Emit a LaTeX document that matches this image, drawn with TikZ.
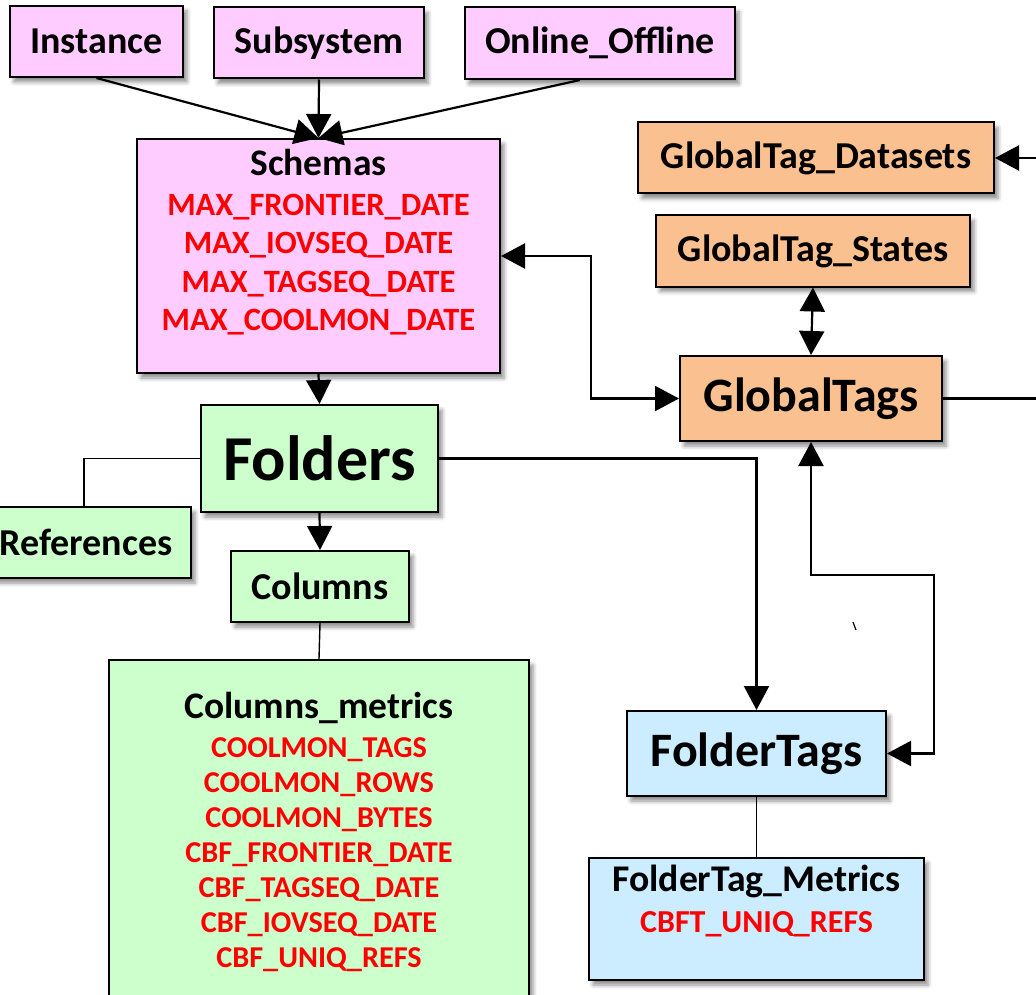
\documentclass[tikz,border=0pt]{standalone}
\usepackage{fontspec}
\setmainfont{Carlito}
\usepackage{xcolor}
\usetikzlibrary{arrows.meta,positioning,calc,shadows.blur}
\definecolor{schemapink}{HTML}{FFCCFF}
\definecolor{foldergreen}{HTML}{CCFFCC}
\definecolor{tagorange}{HTML}{FAC090}
\definecolor{tagblue}{HTML}{CCECFF}
\definecolor{metricred}{HTML}{FF0000}

\begin{document}
\begin{tikzpicture}[
    x=1pt,y=-1pt,
    >={Triangle[length=24pt,width=25pt]},
    box/.style    = {draw=black,line width=2pt,inner sep=0pt,
                     blur shadow={shadow xshift=4pt,shadow yshift=-5pt,
                                  shadow blur radius=4pt,shadow opacity=45}},
    pinkbox/.style   = {box,fill=schemapink},
    greenbox/.style  = {box,fill=foldergreen},
    orangebox/.style = {box,fill=tagorange},
    bluebox/.style   = {box,fill=tagblue},
    lbl/.style    = {font=\fontsize{38}{42}\selectfont\bfseries},
    big/.style    = {font=\fontsize{48}{52}\selectfont\bfseries},
    huge/.style   = {font=\fontsize{64}{68}\selectfont\bfseries},
    cols/.style   = {anchor=north,align=center,inner sep=0pt},
    link/.style   = {line width=2.2pt},
    thin/.style   = {line width=1.4pt},
  ]
  \path[use as bounding box] (0,0) rectangle (1036,995);
  \clip (0,0) rectangle (1036,995);

  % Schema level
  \node[pinkbox,lbl,minimum width=173,minimum height=71] (instance)  at (96.5,41.5) {Instance};
  \node[pinkbox,lbl,minimum width=210,minimum height=71] (subsystem) at (319,43)    {Subsystem};
  \node[pinkbox,lbl,minimum width=270,minimum height=72] (online)    at (600,43)    {Online\_Offline};

  \node[pinkbox,minimum width=363,minimum height=234] (schemas) at (318.5,256) {};
  \node[cols,font=\fontsize{32.5}{38.5}\selectfont\bfseries] (schemas-cols)
       at ([yshift=-11pt]schemas.north)
       {{\fontsize{37.5}{38.5}\selectfont Schemas}\\[1pt]
        \textcolor{metricred}{MAX\_FRONTIER\_DATE}\\
        \textcolor{metricred}{MAX\_IOVSEQ\_DATE}\\
        \textcolor{metricred}{MAX\_TAGSEQ\_DATE}\\
        \textcolor{metricred}{MAX\_COOLMON\_DATE}};

  % Folder level
  \node[greenbox,huge,minimum width=237,minimum height=107] (folders)    at (319.5,458.5) {Folders};
  \node[greenbox,lbl,minimum width=210,minimum height=71]   (references) at (86,542.5)    {References};
  \node[greenbox,lbl,minimum width=178,minimum height=71]   (columns)    at (320,586.5)   {Columns};

  \node[greenbox,minimum width=420,minimum height=380] (colmetrics) at (319,850) {};
  \node[cols,font=\fontsize{30.3}{35}\selectfont\bfseries] (colmetrics-cols)
       at ([yshift=-33pt]colmetrics.north)
       {{\fontsize{37.5}{35}\selectfont Columns\_metrics}\\[4pt]
        \textcolor{metricred}{COOLMON\_TAGS}\\
        \textcolor{metricred}{COOLMON\_ROWS}\\
        \textcolor{metricred}{COOLMON\_BYTES}\\
        \textcolor{metricred}{CBF\_FRONTIER\_DATE}\\
        \textcolor{metricred}{CBF\_TAGSEQ\_DATE}\\
        \textcolor{metricred}{CBF\_IOVSEQ\_DATE}\\
        \textcolor{metricred}{CBF\_UNIQ\_REFS}};

  % Tag level
  \node[orangebox,lbl,minimum width=356,minimum height=71] (datasets)   at (816,158)   {GlobalTag\_Datasets};
  \node[orangebox,lbl,minimum width=314,minimum height=71] (states)     at (813,251)   {GlobalTag\_States};
  \node[orangebox,big,minimum width=262,minimum height=85] (globaltags) at (811,398.5) {GlobalTags};

  \node[bluebox,big,minimum width=259,minimum height=85]  (foldertags) at (756.5,753.5) {FolderTags};
  \node[bluebox,minimum width=335,minimum height=122]     (ftmetrics)  at (756.5,919)   {};
  \node[cols,font=\fontsize{32}{41}\selectfont\bfseries] (ftmetrics-cols)
       at ([yshift=-8pt]ftmetrics.north)
       {{\fontsize{37.7}{41}\selectfont FolderTag\_Metrics}\\
        \textcolor{metricred}{CBFT\_UNIQ\_REFS}};

  % Links
  \draw[link,->] (instance.south) -- (schemas.north);
  \draw[link,->] (subsystem.south) -- (schemas.north);
  \draw[link,->] ([xshift=-20pt]online.south) -- (schemas.north);
  \draw[link,->] (schemas.south) -- (folders.north);
  \draw[link,->] (folders.south) -- (columns.north);
  \draw[thin] (columns.south) -- (colmetrics.north);
  \draw[thin] (folders.west) -| ([xshift=-2pt]references.north);
  \draw[link,->] (folders.east) -| (foldertags.north);
  \draw[link,<->] (schemas.east) -- ++(90,0) |- (globaltags.west);
  \draw[link,<->] (states.south) -- (globaltags.north);

  \coordinate (dsin)  at (1040,158);
  \coordinate (gtout) at (1040,398.5);
  \draw[link,->] (dsin) -- (datasets.east);
  \draw[link] (globaltags.east) -- (gtout);

  \coordinate (ftbend) at (934,575);
  \draw[link,<->] (foldertags.east) -| (ftbend) -| (globaltags.south);
  \draw[thin] (foldertags.south) -- (ftmetrics.north);

  % stray tick
  \draw[line width=1.2pt] (853,622) -- (856,630);

\end{tikzpicture}
\end{document}
